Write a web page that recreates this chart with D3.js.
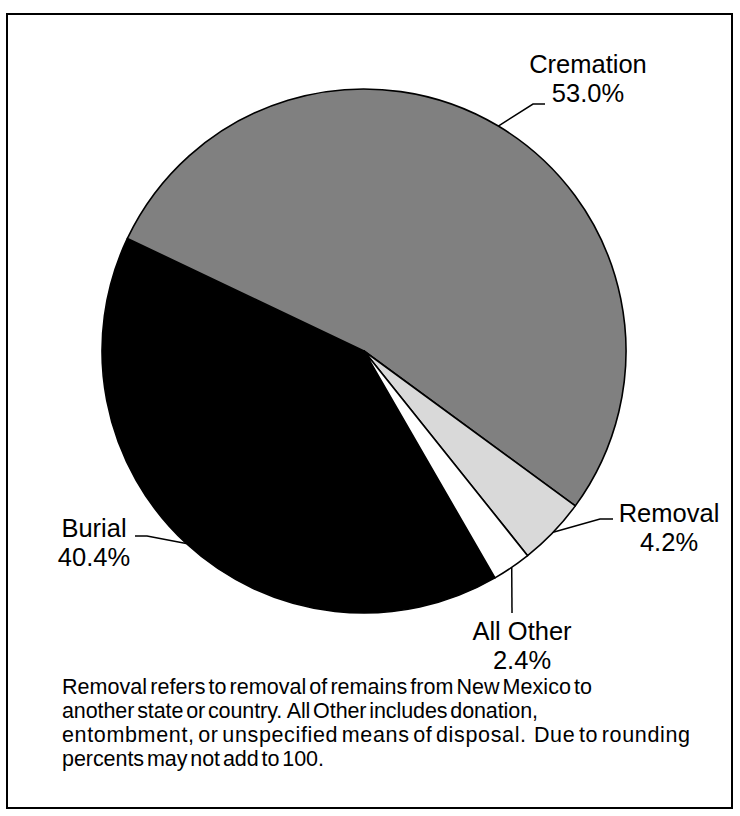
<!DOCTYPE html>
<html>
<head>
<meta charset="utf-8">
<script src="https://cdn.jsdelivr.net/npm/d3@7"></script>
<style>
  html, body { margin: 0; padding: 0; background: #fff; }
  svg { display: block; font-family: "Liberation Sans", Arial, sans-serif; }
  text { white-space: pre; }
</style>
</head>
<body>
<svg id="chart" width="740" height="816"></svg>
<script>
// Disposition of remains, share of total (%)
const categories = ["Burial", "Cremation", "Removal", "All Other"];
const percents = [40.4, 53.0, 4.2, 2.4];
const sliceColors = ["#000000", "#808080", "#d9d9d9", "#ffffff"];

const footnoteLines = [
  "Removal refers to removal of remains from New Mexico to",
  "another state or country.  All Other includes donation,",
  "entombment, or unspecified means of disposal.  Due to rounding",
  "percents may not add to 100."
];
// set widths of the footnote lines (px)
const footnoteWidths = [530, 476, 628, 262];

const svg = d3.select("#chart");

// outer frame
svg.append("rect")
  .attr("x", 7).attr("y", 14)
  .attr("width", 725).attr("height", 794)
  .attr("fill", "none").attr("stroke", "#000").attr("stroke-width", 2);

const cx = 364, cy = 351, R = 262;
const deg = Math.PI / 180;

const data = categories.map((c, i) => ({ name: c, value: percents[i], color: sliceColors[i] }));

const pie = d3.pie()
  .sort(null)
  .value(d => d.value)
  .startAngle(150 * deg)
  .endAngle(510 * deg);

const arc = d3.arc().innerRadius(0).outerRadius(R);
const arcs = pie(data);

const g = svg.append("g").attr("transform", `translate(${cx},${cy})`);
g.selectAll("path.slice")
  .data(arcs)
  .join("path")
  .attr("class", "slice")
  .attr("d", arc)
  .attr("fill", d => d.data.color)
  .attr("stroke", "#000")
  .attr("stroke-width", 1.6)
  .attr("stroke-linejoin", "round");

// label placement: text centre, first baseline, leader bend points
const labelLayout = {
  "Cremation": { x: 588, y: 73, bend: [[533, 104], [545, 104]] },
  "Removal":   { x: 669, y: 522, bend: [[600, 519], [613, 519]] },
  "Burial":    { x: 94,  y: 537, bend: [[147, 536], [135, 536]] },
  "All Other": { x: 522, y: 640, bend: [[512, 613]] }
};

const line = d3.line();
arcs.forEach(a => {
  const mid = (a.startAngle + a.endAngle) / 2;
  const p0 = [cx + R * Math.sin(mid), cy - R * Math.cos(mid)];
  const L = labelLayout[a.data.name];
  svg.append("path")
    .attr("d", line([p0, ...L.bend]))
    .attr("fill", "none")
    .attr("stroke", "#000")
    .attr("stroke-width", 1.5);
  const t = svg.append("text")
    .attr("text-anchor", "middle")
    .attr("font-size", 25.5)
    .attr("fill", "#000");
  t.append("tspan").attr("x", L.x).attr("y", L.y).text(a.data.name);
  t.append("tspan").attr("x", L.x).attr("y", L.y + 29).text(d3.format(".1f")(a.data.value) + "%");
});

// footnote
footnoteLines.forEach((s, i) => {
  svg.append("text")
    .attr("x", 62)
    .attr("y", 694 + i * 24)
    .attr("font-size", 21.5)
    .attr("fill", "#000")
    .attr("word-spacing", -3)
    .attr("textLength", footnoteWidths[i])
    .attr("lengthAdjust", "spacing")
    .text(s);
});
</script>
</body>
</html>
